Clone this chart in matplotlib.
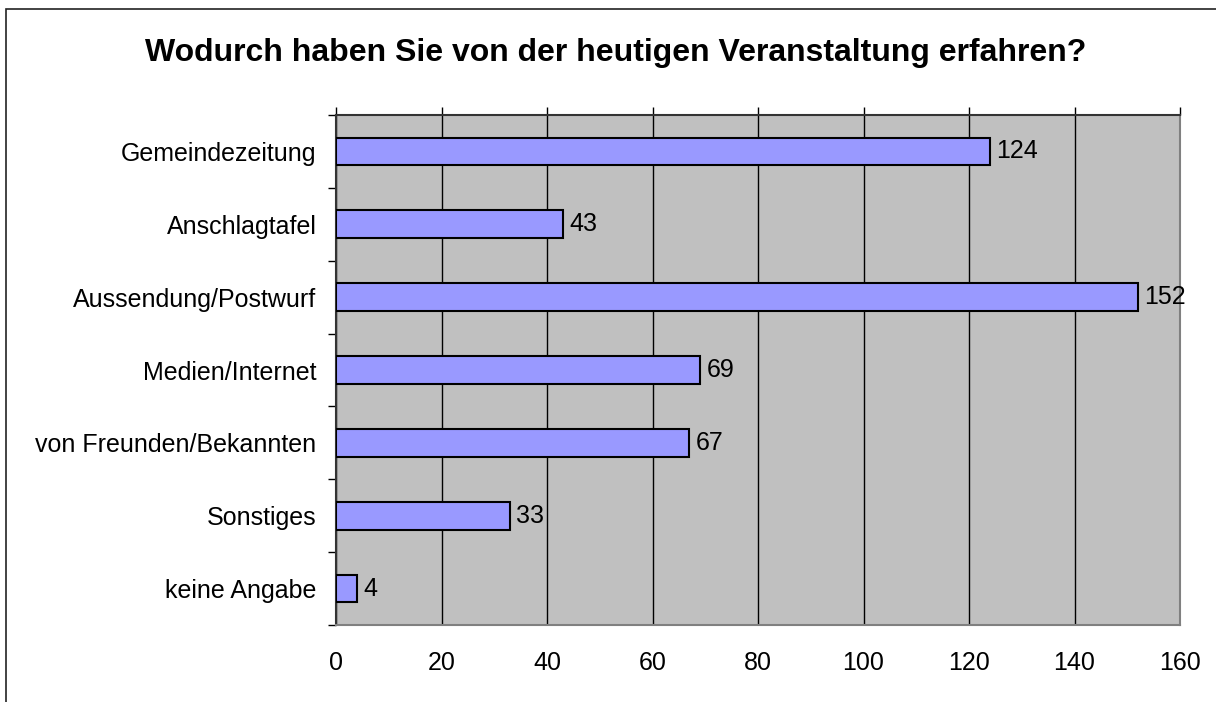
import matplotlib.pyplot as plt
import numpy as np
from matplotlib.patches import Rectangle

categories = ['Gemeindezeitung', 'Anschlagtafel', 'Aussendung/Postwurf', 'Medien/Internet',
              'von Freunden/Bekannten', 'Sonstiges', 'keine Angabe']
counts = [124, 43, 152, 69, 67, 33, 4]
x_ticks = [0, 20, 40, 60, 80, 100, 120, 140, 160]
title = 'Wodurch haben Sie von der heutigen Veranstaltung erfahren?'

plt.rcParams['font.family'] = ['Liberation Sans', 'DejaVu Sans']

fig = plt.figure(figsize=(12.16, 7.02), dpi=100)
# plot area in pixels: x 336..1180, y 115..625
ax = fig.add_axes([336 / 1216, 1 - 625 / 702, (1180 - 336) / 1216, (625 - 115) / 702])
ax.set_facecolor('#C0C0C0')

y_pos = np.arange(len(categories))
ax.barh(y_pos, counts, height=0.38, color='#9999FF', edgecolor='black', linewidth=1.5, zorder=3)
for y, v in zip(y_pos, counts):
    ax.text(v + 1.2, y, str(v), va='center', ha='left', fontsize=18, zorder=4)

ax.set_xlim(0, 160)
ax.set_ylim(len(categories) - 0.5, -0.5)
ax.set_xticks(x_ticks)
ax.set_xticklabels([str(t) for t in x_ticks], fontsize=18)
ax.grid(axis='x', color='black', linewidth=1, zorder=1)

# ticks on top, labels at bottom (Excel style)
ax.tick_params(axis='x', top=True, bottom=False, labeltop=False, labelbottom=True,
               direction='out', length=6, width=1, pad=13)
ax.set_yticks(y_pos)
ax.set_yticklabels(categories, fontsize=18)
ax.set_yticks(np.arange(-0.5, len(categories), 1), minor=True)
ax.tick_params(axis='y', which='major', length=0, pad=14)
ax.tick_params(axis='y', which='minor', length=6, width=1, direction='out')

ax.spines['top'].set_color('#333333')
ax.spines['left'].set_color('#333333')
ax.spines['right'].set_color('#808080')
ax.spines['bottom'].set_color('#808080')
for s in ax.spines.values():
    s.set_linewidth(1.5)

fig.text(616 / 1216, 1 - 53 / 702, title, ha='center', va='center', fontsize=23, fontweight='bold')

# outer chart border (partially cropped in the original)
fig.patches.append(Rectangle((6 / 1216, -0.1), 1.2, 1 - 9 / 702 + 0.1, transform=fig.transFigure,
                             fill=False, edgecolor='#222222', linewidth=1.2))

fig.savefig('out.png', dpi=100)
